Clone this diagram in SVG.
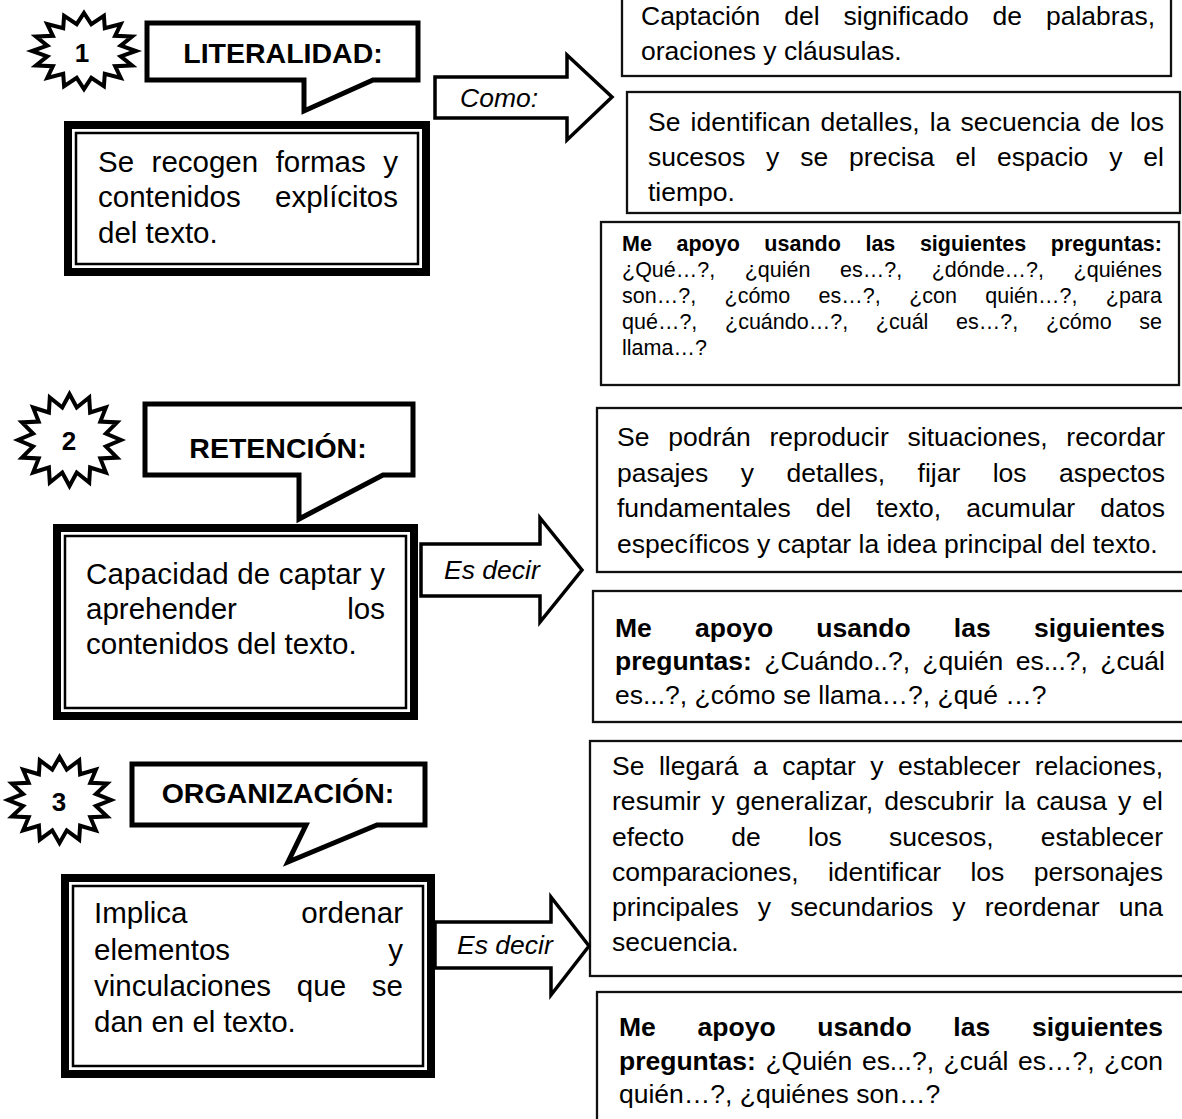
<svg xmlns="http://www.w3.org/2000/svg" xmlns:xlink="http://www.w3.org/1999/xlink" width="1182" height="1119" viewBox="0 0 1182 1119">
<style>
text{font-family:"Liberation Sans",Arial,sans-serif;fill:#000}
.lb{font-size:29.5px}
.rb{font-size:26.5px}
.sm{font-size:21.5px}
.ttl{font-size:28.5px;font-weight:bold;text-anchor:middle}
.num{font-size:26px;font-weight:bold;text-anchor:middle}
.lab{font-size:26.5px;font-style:italic}
.bx{fill:#fff;stroke:#111;stroke-width:2.3}
.call{fill:#fff;stroke:#000;stroke-width:5;stroke-linejoin:miter}
.outer{fill:#fff;stroke:#000;stroke-width:8}
.inner{fill:none;stroke:#000;stroke-width:2.5}
.arr{fill:#fff;stroke:#000;stroke-width:3.5;stroke-linejoin:miter}
.end{text-anchor:end}
.bo{font-weight:bold}
</style>
<defs>
<path id="star" d="M0,-50 L7.02,-35.31 L19.13,-46.19 L20,-29.93 L35.36,-35.36 L29.93,-20 L46.19,-19.13 L35.31,-7.02 L50,0 L35.31,7.02 L46.19,19.13 L29.93,20 L35.36,35.36 L20,29.93 L19.13,46.19 L7.02,35.31 L0,50 L-7.02,35.31 L-19.13,46.19 L-20,29.93 L-35.36,35.36 L-29.93,20 L-46.19,19.13 L-35.31,7.02 L-50,0 L-35.31,-7.02 L-46.19,-19.13 L-29.93,-20 L-35.36,-35.36 L-20,-29.93 L-19.13,-46.19 L-7.02,-35.31 Z" fill="#fff" stroke="#000" stroke-width="4" vector-effect="non-scaling-stroke" stroke-linejoin="miter"/>
</defs>
<rect width="1182" height="1119" fill="#fff"/>

<!-- Section 1 -->
<g id="star1">
<use xlink:href="#star" transform="translate(84,51) scale(1.04,0.76)"/>
<text class="num" x="82" y="62">1</text>
</g>
<g id="callout1">
<path class="call" d="M147,23 H418 V80 H373 L304,111 V80 H147 Z"/>
<text class="ttl" x="283" y="63">LITERALIDAD:</text>
</g>
<g id="def1">
<rect class="outer" x="68" y="125" width="358" height="147"/>
<rect class="inner" x="76" y="133" width="342" height="131"/>
<text class="lb" x="98" y="172" word-spacing="9.3" textLength="300" lengthAdjust="spacing">Se recogen formas y</text>
<text class="lb" x="98" y="207">contenidos</text>
<text class="lb end" x="398" y="207">explícitos</text>
<text class="lb" x="98" y="243">del texto.</text>
</g>
<g id="boxA">
<rect class="bx" x="622" y="-5" width="549" height="81"/>
<text class="rb" x="641" y="25" word-spacing="16.6" textLength="514" lengthAdjust="spacing">Captación del significado de palabras,</text>
<text class="rb" x="641" y="60">oraciones y cláusulas.</text>
</g>
<g id="boxB">
<rect class="bx" x="627" y="92" width="553" height="121"/>
<text class="rb" x="648" y="131" word-spacing="2.6" textLength="516" lengthAdjust="spacing">Se identifican detalles, la secuencia de los</text>
<text class="rb" x="648" y="166" word-spacing="13.5" textLength="516" lengthAdjust="spacing">sucesos y se precisa el espacio y el</text>
<text class="rb" x="648" y="201">tiempo.</text>
</g>
<g id="boxC">
<rect class="bx" x="601" y="222" width="578" height="163"/>
<text class="sm bo" x="622" y="251" word-spacing="18.6" textLength="540" lengthAdjust="spacing">Me apoyo usando las siguientes preguntas:</text>
<text class="sm" x="622" y="277" word-spacing="23.6" textLength="540" lengthAdjust="spacing">¿Qué…?, ¿quién es…?, ¿dónde…?, ¿quiénes</text>
<text class="sm" x="622" y="303" word-spacing="22.4" textLength="540" lengthAdjust="spacing">son…?, ¿cómo es…?, ¿con quién…?, ¿para</text>
<text class="sm" x="622" y="329" word-spacing="21.7" textLength="540" lengthAdjust="spacing">qué…?, ¿cuándo…?, ¿cuál es…?, ¿cómo se</text>
<text class="sm" x="622" y="355">llama…?</text>
</g>

<!-- Section 2 -->
<g id="star2">
<use xlink:href="#star" transform="translate(69.5,440) scale(1.03,0.92)"/>
<text class="num" x="69" y="450">2</text>
</g>
<g id="callout2">
<path class="call" d="M145,404 H413 V475 H383 L299,519 V475 H145 Z"/>
<text class="ttl" x="278" y="458">RETENCIÓN:</text>
</g>
<g id="def2">
<rect class="outer" x="57" y="528" width="357" height="188"/>
<rect class="inner" x="65" y="536" width="341" height="172"/>
<text class="lb" x="86" y="584" textLength="299" lengthAdjust="spacing">Capacidad de captar y</text>
<text class="lb" x="86" y="619">aprehender</text>
<text class="lb end" x="385" y="619">los</text>
<text class="lb" x="86" y="654">contenidos del texto.</text>
</g>
<g id="boxD">
<rect class="bx" x="597" y="408" width="600" height="164"/>
<text class="rb" x="617" y="446" word-spacing="11.4" textLength="548" lengthAdjust="spacing">Se podrán reproducir situaciones, recordar</text>
<text class="rb" x="617" y="482" word-spacing="25.1" textLength="548" lengthAdjust="spacing">pasajes y detalles, fijar los aspectos</text>
<text class="rb" x="617" y="517" word-spacing="17.7" textLength="548" lengthAdjust="spacing">fundamentales del texto, acumular datos</text>
<text class="rb" x="617" y="553">específicos y captar la idea principal del texto.</text>
</g>
<g id="boxF">
<rect class="bx" x="593" y="591" width="600" height="131"/>
<text class="rb bo" x="615" y="637" word-spacing="35.9" textLength="550" lengthAdjust="spacing">Me apoyo usando las siguientes</text>
<text class="rb" x="615" y="670" word-spacing="5" textLength="550" lengthAdjust="spacing"><tspan class="bo">preguntas:</tspan> ¿Cuándo..?, ¿quién es...?, ¿cuál</text>
<text class="rb" x="615" y="704">es...?, ¿cómo se llama…?, ¿qué …?</text>
</g>

<!-- Section 3 -->
<g id="star3">
<use xlink:href="#star" transform="translate(59.5,800) scale(1.03,0.86)"/>
<text class="num" x="59" y="811">3</text>
</g>
<g id="callout3">
<path class="call" d="M132,764 H425 V825 H377 L288,862 L306,825 H132 Z"/>
<text class="ttl" x="278" y="803">ORGANIZACIÓN:</text>
</g>
<g id="def3">
<rect class="outer" x="65" y="878" width="366" height="196"/>
<rect class="inner" x="73" y="886" width="350" height="180"/>
<text class="lb" x="94" y="923">Implica</text>
<text class="lb end" x="403" y="923">ordenar</text>
<text class="lb" x="94" y="960">elementos</text>
<text class="lb end" x="403" y="960">y</text>
<text class="lb" x="94" y="996" word-spacing="17.6" textLength="309" lengthAdjust="spacing">vinculaciones que se</text>
<text class="lb" x="94" y="1032">dan en el texto.</text>
</g>
<g id="boxE">
<rect class="bx" x="590" y="741" width="600" height="235"/>
<text class="rb" x="612" y="775" word-spacing="7.1" textLength="551" lengthAdjust="spacing">Se llegará a captar y establecer relaciones,</text>
<text class="rb" x="612" y="810" word-spacing="3.6" textLength="551" lengthAdjust="spacing">resumir y generalizar, descubrir la causa y el</text>
<text class="rb" x="612" y="846" word-spacing="39.8" textLength="551" lengthAdjust="spacing">efecto de los sucesos, establecer</text>
<text class="rb" x="612" y="881" word-spacing="22.2" textLength="551" lengthAdjust="spacing">comparaciones, identificar los personajes</text>
<text class="rb" x="612" y="916" word-spacing="11.8" textLength="551" lengthAdjust="spacing">principales y secundarios y reordenar una</text>
<text class="rb" x="612" y="951">secuencia.</text>
</g>
<g id="boxG">
<rect class="bx" x="597" y="992" width="600" height="140"/>
<text class="rb bo" x="619" y="1036" word-spacing="34.4" textLength="544" lengthAdjust="spacing">Me apoyo usando las siguientes</text>
<text class="rb" x="619" y="1070" word-spacing="2.2" textLength="544" lengthAdjust="spacing"><tspan class="bo">preguntas:</tspan> ¿Quién es...?, ¿cuál es…?, ¿con</text>
<text class="rb" x="619" y="1103">quién…?, ¿quiénes son…?</text>
</g>

<!-- Connectors: block arrows -->
<g id="connectors">
<g id="arrow1">
<path class="arr" d="M435,77 H567 V55 L612,97 L567,140 V118 H435 Z"/>
<text class="lab" x="460" y="107">Como:</text>
</g>
<g id="arrow2">
<path class="arr" d="M421,544 H540 V518 L582,570 L540,622 V596 H421 Z"/>
<text class="lab" x="444" y="579">Es decir</text>
</g>
<g id="arrow3">
<path class="arr" d="M435,922 H551 V897 L589,946 L551,995 V968 H435 Z"/>
<text class="lab" x="457" y="954">Es decir</text>
</g>
</g>
</svg>
